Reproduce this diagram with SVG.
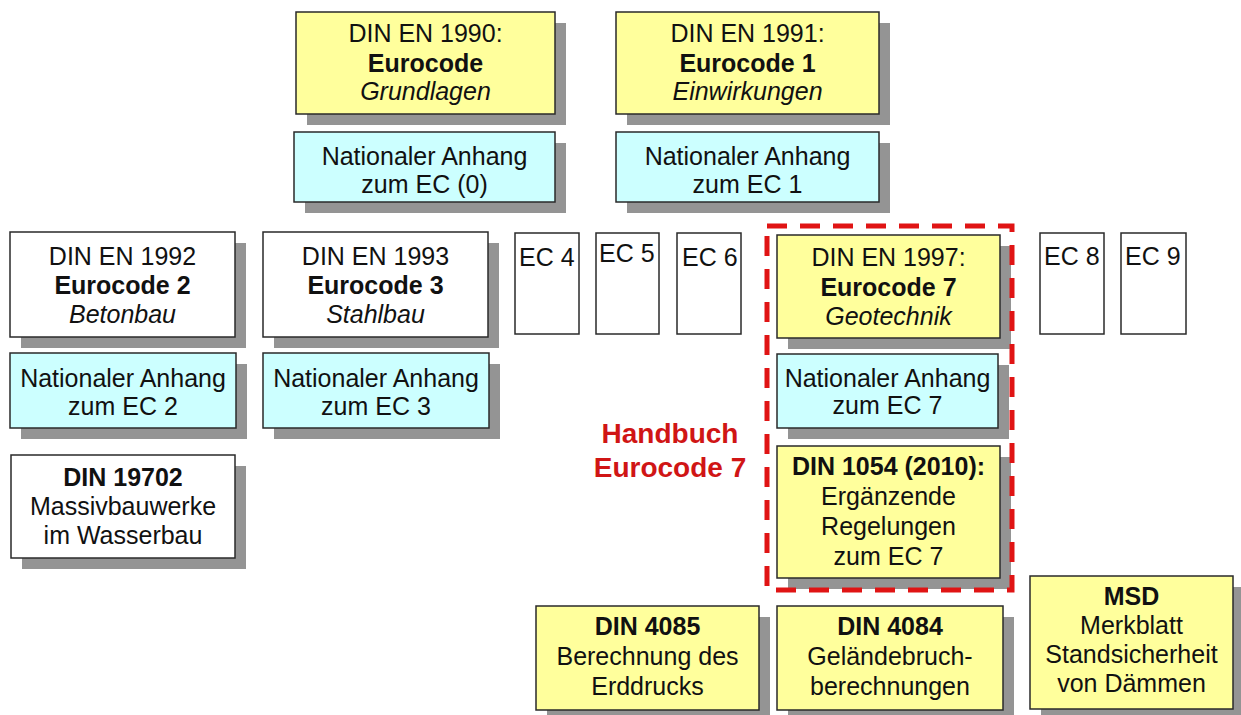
<svg xmlns="http://www.w3.org/2000/svg" width="1241" height="715" viewBox="0 0 1241 715">
<style>
  .sh{fill:#949494}
  .box{stroke:#2a2a2a;stroke-width:1.5}
  .y{fill:#ffff9c}
  .c{fill:#ccffff}
  .w{fill:#ffffff}
  text{font-family:"Liberation Sans",Arial,sans-serif;font-size:25px;fill:#111;text-anchor:middle}
  .b{font-weight:bold}
  .i{font-style:italic}
  .l{text-anchor:start}
  .red{fill:#d01515;font-weight:bold;font-size:28px}
</style>
<rect width="1241" height="715" fill="#ffffff"/>

<g id="n1990">
  <rect class="sh" x="307" y="23" width="259" height="102"/>
  <rect class="box y" x="296" y="12" width="259" height="102"/>
  <text x="425.5" y="42">DIN EN 1990:</text>
  <text class="b" x="425.5" y="72">Eurocode</text>
  <text class="i" x="425.5" y="100">Grundlagen</text>
</g>
<g id="na0">
  <rect class="sh" x="305" y="143" width="261" height="70"/>
  <rect class="box c" x="294" y="132" width="261" height="70"/>
  <text x="424.5" y="165">Nationaler Anhang</text>
  <text x="424.5" y="193">zum EC (0)</text>
</g>
<g id="n1991">
  <rect class="sh" x="627" y="23" width="263" height="102"/>
  <rect class="box y" x="616" y="12" width="263" height="102"/>
  <text x="747.5" y="42">DIN EN 1991:</text>
  <text class="b" x="747.5" y="72">Eurocode 1</text>
  <text class="i" x="747.5" y="100">Einwirkungen</text>
</g>
<g id="na1">
  <rect class="sh" x="627" y="143" width="263" height="70"/>
  <rect class="box c" x="616" y="132" width="263" height="70"/>
  <text x="747.5" y="165">Nationaler Anhang</text>
  <text x="747.5" y="193">zum EC 1</text>
</g>

<g id="n1992">
  <rect class="sh" x="21" y="243" width="225" height="105"/>
  <rect class="box w" x="10" y="232" width="225" height="105"/>
  <text x="122.5" y="265">DIN EN 1992</text>
  <text class="b" x="122.5" y="294">Eurocode 2</text>
  <text class="i" x="122.5" y="323">Betonbau</text>
</g>
<g id="n1993">
  <rect class="sh" x="274" y="243" width="225" height="105"/>
  <rect class="box w" x="263" y="232" width="225" height="105"/>
  <text x="375.5" y="265">DIN EN 1993</text>
  <text class="b" x="375.5" y="294">Eurocode 3</text>
  <text class="i" x="375.5" y="323">Stahlbau</text>
</g>
<g id="na2">
  <rect class="sh" x="21" y="364" width="226" height="75"/>
  <rect class="box c" x="10" y="353" width="226" height="75"/>
  <text x="123" y="387">Nationaler Anhang</text>
  <text x="123" y="415">zum EC 2</text>
</g>
<g id="na3">
  <rect class="sh" x="274" y="364" width="226" height="75"/>
  <rect class="box c" x="263" y="353" width="226" height="75"/>
  <text x="376" y="387">Nationaler Anhang</text>
  <text x="376" y="415">zum EC 3</text>
</g>

<g id="ec4">
  <rect class="box w" x="515" y="233" width="64" height="101"/>
  <text class="l" x="519" y="266">EC 4</text>
</g>
<g id="ec5">
  <rect class="box w" x="596" y="233" width="63" height="101"/>
  <text class="l" x="599" y="262">EC 5</text>
</g>
<g id="ec6">
  <rect class="box w" x="677" y="233" width="64" height="101"/>
  <text class="l" x="682" y="266">EC 6</text>
</g>
<g id="ec8">
  <rect class="box w" x="1040" y="233" width="64" height="101"/>
  <text class="l" x="1044" y="265">EC 8</text>
</g>
<g id="ec9">
  <rect class="box w" x="1121" y="233" width="65" height="101"/>
  <text class="l" x="1125" y="265">EC 9</text>
</g>

<g id="ec7">
  <rect class="sh" x="788" y="246" width="223" height="103"/>
  <rect class="box y" x="777" y="235" width="223" height="103"/>
  <text x="888.5" y="266">DIN EN 1997:</text>
  <text class="b" x="888.5" y="296">Eurocode 7</text>
  <text class="i" x="888.5" y="325">Geotechnik</text>
</g>
<g id="na7">
  <rect class="sh" x="788" y="365" width="221" height="74"/>
  <rect class="box c" x="777" y="354" width="221" height="74"/>
  <text x="887.5" y="387">Nationaler Anhang</text>
  <text x="887.5" y="414">zum EC 7</text>
</g>
<g id="din1054">
  <rect class="sh" x="788" y="457" width="223" height="132"/>
  <rect class="box y" x="777" y="446" width="223" height="132"/>
  <text class="b" x="888.5" y="475">DIN 1054 (2010):</text>
  <text x="888.5" y="505">Ergänzende</text>
  <text x="888.5" y="535">Regelungen</text>
  <text x="888.5" y="565">zum EC 7</text>
</g>

<g id="handbuch">
  <rect x="767" y="226" width="245" height="364" fill="none" stroke="#e01414" stroke-width="5" stroke-dasharray="20 13"/>
  <text class="red" x="670" y="443">Handbuch</text>
  <text class="red" x="670" y="477">Eurocode 7</text>
</g>

<g id="din19702">
  <rect class="sh" x="22" y="466" width="224" height="103"/>
  <rect class="box w" x="11" y="455" width="224" height="103"/>
  <text class="b" x="123" y="486">DIN 19702</text>
  <text x="123" y="515">Massivbauwerke</text>
  <text x="123" y="544">im Wasserbau</text>
</g>

<g id="din4085">
  <rect class="sh" x="547" y="617" width="223" height="104"/>
  <rect class="box y" x="536" y="606" width="223" height="104"/>
  <text class="b" x="647.5" y="635">DIN 4085</text>
  <text x="647.5" y="665">Berechnung des</text>
  <text x="647.5" y="695">Erddrucks</text>
</g>
<g id="din4084">
  <rect class="sh" x="788" y="617" width="226" height="104"/>
  <rect class="box y" x="777" y="606" width="226" height="104"/>
  <text class="b" x="890" y="635">DIN 4084</text>
  <text x="890" y="665">Geländebruch-</text>
  <text x="890" y="695">berechnungen</text>
</g>
<g id="msd">
  <rect class="sh" x="1041" y="587" width="203" height="133"/>
  <rect class="box y" x="1030" y="576" width="203" height="133"/>
  <text class="b" x="1131.5" y="605">MSD</text>
  <text x="1131.5" y="634">Merkblatt</text>
  <text x="1131.5" y="663">Standsicherheit</text>
  <text x="1131.5" y="692">von Dämmen</text>
</g>
<g id="connectors"/>
</svg>
